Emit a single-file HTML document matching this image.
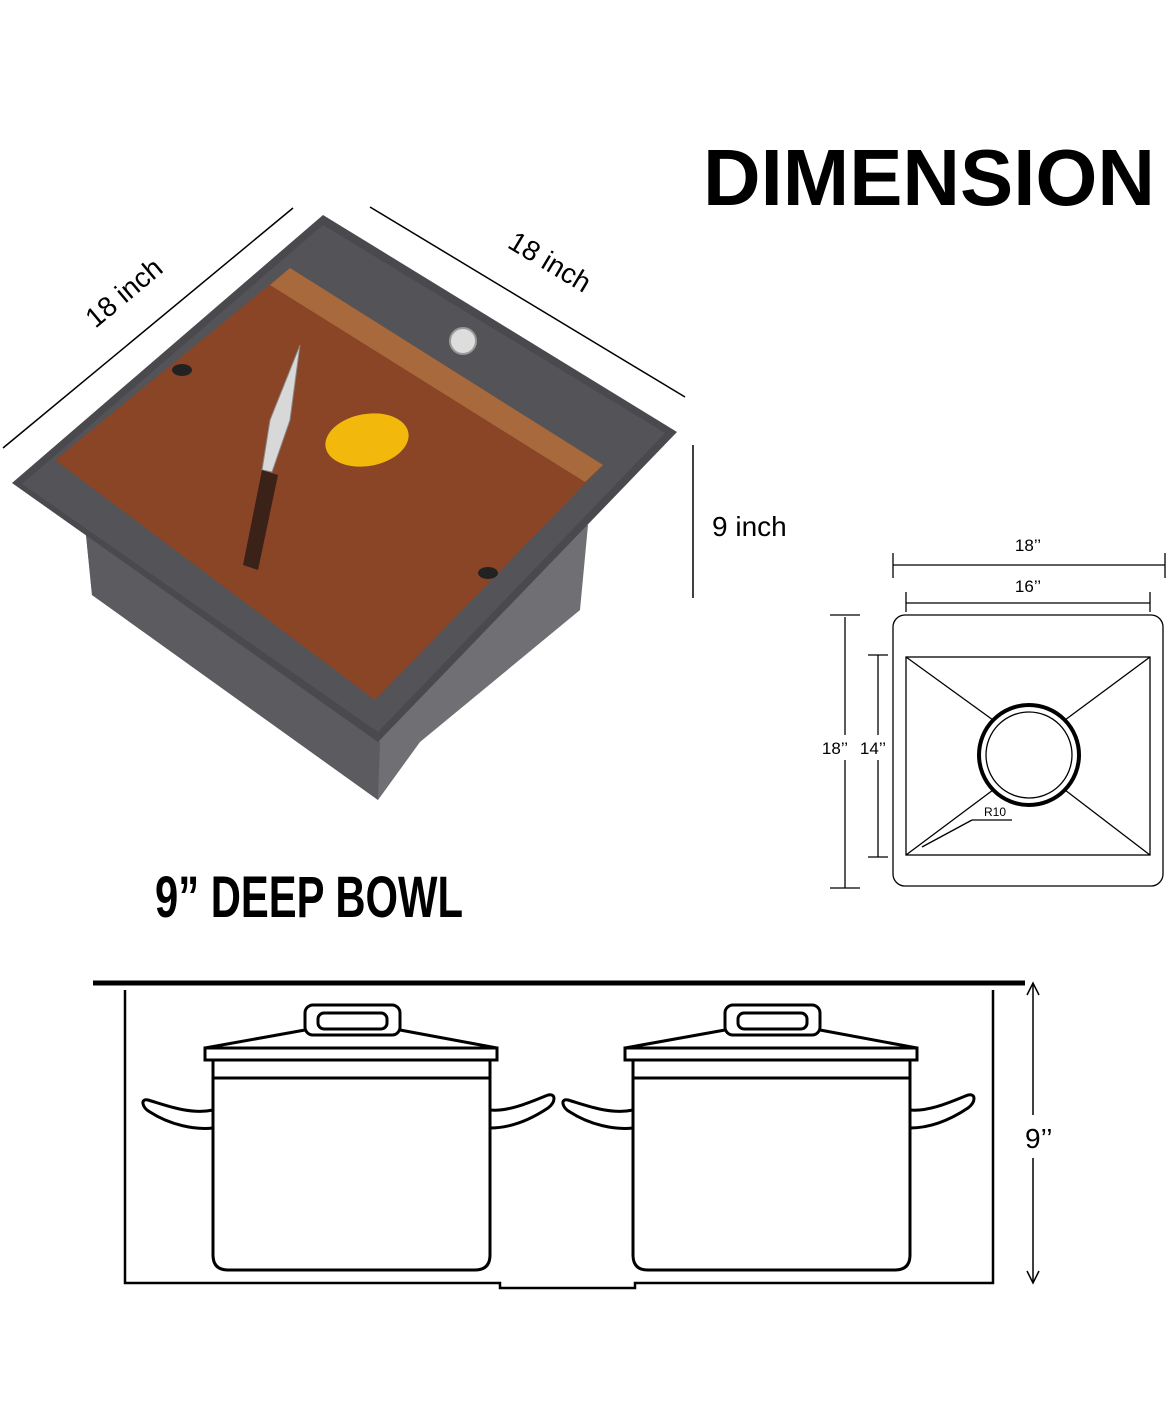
<!DOCTYPE html>
<html><head><meta charset="utf-8"><style>html,body{margin:0;padding:0;background:#fff}svg{display:block}</style></head><body>
<svg width="1170" height="1416" viewBox="0 0 1170 1416" xmlns="http://www.w3.org/2000/svg" font-family="Liberation Sans, sans-serif">
<rect width="1170" height="1416" fill="#fff"/>
<polygon points="85,525 92,595 378,800 420,742 580,610 588,525" fill="#707074"/>
<polygon points="92,595 378,800 380,742 85,525" fill="#5c5c60"/>
<polygon points="12,483 323,215 677,432 378,742" fill="#4a4a4e"/>
<polygon points="22,484 323,225 665,433 378,732" fill="#545458"/>
<polygon points="55,460 290,268 603,465 375,700" fill="#8a4426"/>
<polygon points="270,285 290,268 603,465 585,482" fill="#a86a3c"/>
<ellipse cx="182" cy="370" rx="10" ry="6" fill="#222"/>
<ellipse cx="488" cy="573" rx="10" ry="6" fill="#222"/>
<circle cx="463" cy="341" r="13" fill="#ddd" stroke="#999" stroke-width="2"/>
<path d="M300,345 L270,420 L262,470 L272,472 L290,420 Z" fill="#d8d8d8" stroke="#888"/>
<path d="M262,470 L243,565 L258,570 L278,475 Z" fill="#3a2218"/>
<ellipse cx="367" cy="440" rx="42" ry="26" fill="#f2b90c" transform="rotate(-10 367 440)"/>
<line x1="3" y1="448" x2="293" y2="208" stroke="#000" stroke-width="1.5"/>
<text x="130" y="300" font-size="28" text-anchor="middle" transform="rotate(-40 130 300)">18 inch</text>
<line x1="370" y1="207" x2="685" y2="397" stroke="#000" stroke-width="1.5"/>
<text x="545" y="270" font-size="28" text-anchor="middle" transform="rotate(31 545 270)">18 inch</text>
<line x1="693" y1="445" x2="693" y2="598" stroke="#000" stroke-width="1.5"/>
<text x="712" y="536" font-size="28">9 inch</text>
<text x="703" y="205" font-size="80" font-weight="bold" textLength="452" lengthAdjust="spacingAndGlyphs">DIMENSION</text>
<text x="155" y="917" font-size="58" font-weight="bold" textLength="308" lengthAdjust="spacingAndGlyphs">9” DEEP BOWL</text>
<g stroke="#000" fill="none" stroke-width="1.3">
<rect x="893" y="615" width="270" height="271" rx="12"/>
<rect x="906" y="657" width="244" height="198"/>
<circle cx="1029" cy="755" r="50" stroke-width="4"/>
<circle cx="1029" cy="755" r="43"/>
<line x1="906" y1="657" x2="993" y2="720"/><line x1="1150" y1="657" x2="1065" y2="720"/>
<line x1="906" y1="855" x2="993" y2="790"/><line x1="1150" y1="855" x2="1065" y2="790"/>
<line x1="893" y1="565" x2="1165" y2="565"/><line x1="893" y1="553" x2="893" y2="578"/><line x1="1165" y1="553" x2="1165" y2="578"/>
<line x1="906" y1="603" x2="1150" y2="603"/><line x1="906" y1="592" x2="906" y2="612"/><line x1="1150" y1="592" x2="1150" y2="612"/>
<line x1="845" y1="617" x2="845" y2="735"/><line x1="845" y1="760" x2="845" y2="888"/><line x1="830" y1="615" x2="860" y2="615"/><line x1="830" y1="888" x2="860" y2="888"/>
<line x1="878" y1="655" x2="878" y2="735"/><line x1="878" y1="760" x2="878" y2="857"/><line x1="868" y1="655" x2="888" y2="655"/><line x1="868" y1="857" x2="888" y2="857"/>
<line x1="1012" y1="820" x2="972" y2="820"/><line x1="972" y1="820" x2="922" y2="847"/>
</g>
<g font-size="17" text-anchor="middle">
<text x="1028" y="551">18’’</text><text x="1028" y="592">16’’</text>
<text x="835" y="754">18’’</text><text x="873" y="754">14’’</text>
</g>
<text x="995" y="816" font-size="12" text-anchor="middle">R10</text>
<g stroke="#000" fill="none" stroke-width="2.5">
<line x1="93" y1="983" x2="1025" y2="983" stroke-width="5"/>
<path d="M125,990 V1283 H500 V1288 H635 V1283 H993 V990"/>
<line x1="1033" y1="985" x2="1033" y2="1115" stroke-width="1.5"/>
<line x1="1033" y1="1158" x2="1033" y2="1283" stroke-width="1.5"/>
</g>
<g id="pot" stroke="#000" fill="none" stroke-width="3">
<rect x="305" y="1005" width="95" height="30" rx="8"/>
<rect x="318" y="1013" width="69" height="16" rx="6"/>
<path d="M205,1048 L305,1030 M400,1030 L497,1048"/>
<path d="M205,1048 H497 V1060 H205 Z"/>
<line x1="213" y1="1078" x2="490" y2="1078"/>
<path d="M213,1060 V1255 Q213,1270 228,1270 H475 Q490,1270 490,1255 V1060"/>
<path d="M213,1110 C190,1115 165,1105 148,1100 C140,1098 142,1108 150,1112 C170,1125 195,1130 213,1128"/>
<path d="M490,1110 C510,1112 535,1100 548,1095 C556,1093 556,1102 548,1108 C530,1120 510,1128 490,1128"/>
</g>
<use href="#pot" x="420"/>
<g stroke="#000" stroke-width="1.5"><path d="M1027,995 L1033,983 L1039,995 M1027,1271 L1033,1283 L1039,1271" fill="none"/></g>
<text x="1025" y="1148" font-size="28">9’’</text>
</svg>
</body></html>
